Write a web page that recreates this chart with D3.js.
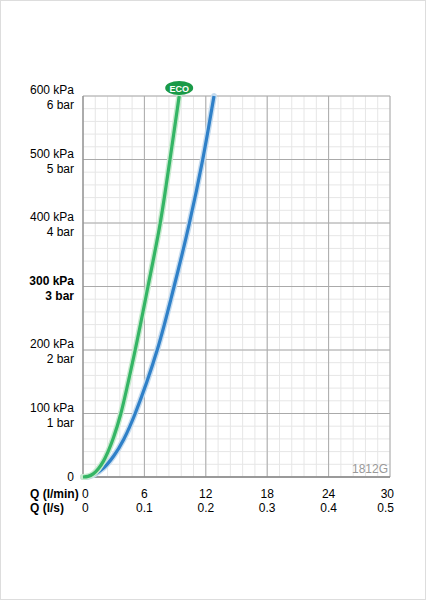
<!DOCTYPE html>
<html><head><meta charset="utf-8">
<script src="https://cdn.jsdelivr.net/npm/d3@7"></script>
<style>body{margin:0;background:#fff}text{font-family:"Liberation Sans",Arial,sans-serif}</style>
</head><body>
<svg id="chart" width="426" height="600"></svg>
<script>
// values
const yTicks = [0, 100, 200, 300, 400, 500, 600];
const xTicks = [0, 6, 12, 18, 24, 30];
const xTicksLs = ["0", "0.1", "0.2", "0.3", "0.4", "0.5"];
const ecoCurve = [[0,0],[0.5,1],[1,5],[1.5,13],[2,25],[2.5,42],[3,63],[3.7,100],[5.1,200],[6.35,300],[7.55,400],[8.5,500],[9.4,600]];
const stdCurve = [[0,0],[0.5,0.5],[1,3],[2,14],[3,33],[4,60],[5.1,100],[7.25,200],[8.9,300],[10.4,400],[11.7,500],[12.8,600]];

const svg = d3.select("#chart");
svg.append("rect").attr("x", 0.5).attr("y", 0.5).attr("width", 425).attr("height", 599)
  .attr("fill", "none").attr("stroke", "#ddd");

const x = d3.scaleLinear().domain([0, 30]).range([83, 390]);
const y = d3.scaleLinear().domain([0, 600]).range([477, 96]);

const g = svg.append("g");
// minor grid
d3.range(0, 30.01, 1.2).forEach(v => g.append("line").attr("x1", x(v)).attr("x2", x(v))
  .attr("y1", y(0)).attr("y2", y(600)).attr("stroke", "#e6e6e6"));
d3.range(0, 600.1, 20).forEach(v => g.append("line").attr("y1", y(v)).attr("y2", y(v))
  .attr("x1", x(0)).attr("x2", x(30)).attr("stroke", "#e6e6e6"));
// major grid
xTicks.forEach(v => g.append("line").attr("x1", x(v)).attr("x2", x(v))
  .attr("y1", y(0)).attr("y2", y(600)).attr("stroke", "#aaa"));
yTicks.forEach(v => g.append("line").attr("y1", y(v)).attr("y2", y(v))
  .attr("x1", x(0)).attr("x2", x(30)).attr("stroke", "#aaa"));
g.append("line").attr("x1", x(0)).attr("x2", x(0)).attr("y1", y(0)).attr("y2", y(600)).attr("stroke", "#888");
g.append("line").attr("x1", x(0)).attr("x2", x(30)).attr("y1", y(0)).attr("y2", y(0)).attr("stroke", "#888").attr("stroke-width", 1.5);

// y labels
yTicks.forEach(v => {
  const bold = v === 300 ? "bold" : "normal";
  if (v === 0) {
    svg.append("text").attr("x", 74).attr("y", y(0) + 4).attr("text-anchor", "end")
      .attr("font-size", 12).text("0");
  } else {
    svg.append("text").attr("x", 74).attr("y", y(v) - 2).attr("text-anchor", "end")
      .attr("font-size", 12).attr("font-weight", bold).text(v + " kPa");
    svg.append("text").attr("x", 74).attr("y", y(v) + 13).attr("text-anchor", "end")
      .attr("font-size", 12).attr("font-weight", bold).text(v / 100 + " bar");
  }
});

// x labels
svg.append("text").attr("x", 30).attr("y", 498).attr("font-size", 12).attr("font-weight", "bold").text("Q (l/min)");
svg.append("text").attr("x", 30).attr("y", 512).attr("font-size", 12).attr("font-weight", "bold").text("Q (l/s)");
xTicks.forEach((v, i) => {
  const anchor = i === 0 ? "start" : (i === xTicks.length - 1 ? "end" : "middle");
  const xx = i === 0 ? x(v) - 1 : (i === xTicks.length - 1 ? x(v) + 4 : x(v));
  svg.append("text").attr("x", xx).attr("y", 498).attr("text-anchor", anchor).attr("font-size", 12).text(v);
  svg.append("text").attr("x", xx).attr("y", 512).attr("text-anchor", anchor).attr("font-size", 12).text(xTicksLs[i]);
});

svg.append("text").attr("x", 388).attr("y", 473).attr("text-anchor", "end")
  .attr("font-size", 12).attr("fill", "#999").text("1812G");

// curves
const line = d3.line().x(d => x(d[0])).y(d => y(d[1])).curve(d3.curveCatmullRom.alpha(0.5));
[[stdCurve, "#2f80c8", "#c6dcef"], [ecoCurve, "#34b565", "#c8eacf"]].forEach(([data, col, glow]) => {
  svg.append("path").datum(data).attr("d", line).attr("fill", "none")
    .attr("stroke", glow).attr("stroke-width", 6).attr("stroke-linecap", "round");
  svg.append("path").datum(data).attr("d", line).attr("fill", "none")
    .attr("stroke", col).attr("stroke-width", 3.2);
});

// ECO badge
const ex = x(ecoCurve[ecoCurve.length - 1][0]);
svg.append("ellipse").attr("cx", ex).attr("cy", 88).attr("rx", 14).attr("ry", 7).attr("fill", "#1a9a48");
svg.append("text").attr("x", ex).attr("y", 91.5).attr("text-anchor", "middle")
  .attr("font-size", 9).attr("font-weight", "bold").attr("fill", "#fff").text("ECO");
</script>
</body></html>
